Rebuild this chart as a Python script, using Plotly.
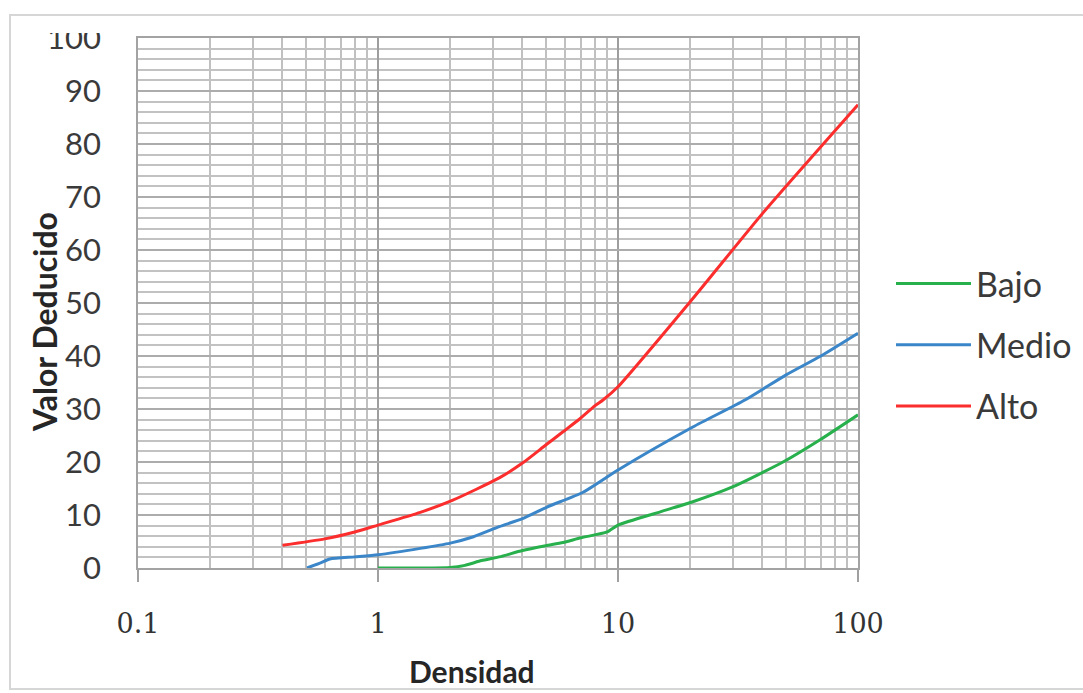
import plotly.graph_objects as go

# ---- data ----
bajo_x = [1, 1.5, 2, 2.3, 2.7, 3.2, 4, 5, 5.9, 7, 9, 10, 15, 20.5, 30, 48.7, 69.5, 100]
bajo_y = [0, 0, 0.1, 0.5, 1.4, 2.1, 3.3, 4.2, 4.8, 5.7, 6.8, 8.1, 10.6, 12.5, 15.3, 20, 24.2, 28.9]

medio_x = [0.506, 0.58, 0.63, 0.8, 1, 1.5, 2, 2.5, 3.2, 4, 5.06, 7.15, 10, 20.5, 33.8, 50, 70, 100]
medio_y = [0, 1.0, 1.7, 2.1, 2.5, 3.7, 4.7, 5.9, 7.8, 9.3, 11.5, 14.3, 18.5, 26.6, 31.7, 36.4, 40, 44.3]

alto_x = [0.4, 0.6, 0.8, 1, 1.5, 2.05, 3.2, 4, 5, 5.9, 7, 8, 8.66, 10, 20.3, 40.2, 100]
alto_y = [4.3, 5.5, 6.8, 8.1, 10.5, 12.8, 17.0, 19.8, 23.2, 25.7, 28.3, 30.6, 31.7, 34.2, 50.6, 67, 87.4]

x_ticks = [0.1, 1, 10, 100]
x_ticktext = ["0.1", "1", "10", "100"]
x_minor = [m * d for d in (0.1, 1, 10) for m in range(2, 10)]
y_ticks = list(range(0, 101, 10))

series = [
    ("Bajo", bajo_x, bajo_y, "#27b04c"),
    ("Medio", medio_x, medio_y, "#3a86c8"),
    ("Alto", alto_x, alto_y, "#fb2d2d"),
]

W, H = 1083, 693
L, R, T, B = 138, 858, 38, 568  # plot area in px


def px_x(p):
    return (p - L) / (R - L)


def px_y(p):
    return (B - p) / (B - T)


fig = go.Figure()
for i, (name, xs, ys, col) in enumerate(series):
    fig.add_trace(go.Scatter(
        x=xs, y=ys, name=name, mode="lines",
        line=dict(color=col, width=3, shape="spline", smoothing=0.6),
        legendgroup=f"g{i}",
    ))

tick_font_sans = dict(family="Lato, 'Open Sans', sans-serif", size=31, color="#3a3a3a")
tick_font_serif = dict(family="'DejaVu Serif', serif", size=27, color="#333333")

fig.update_layout(
    width=W, height=H,
    margin=dict(l=L, r=W - R, t=T, b=H - B, autoexpand=False),
    paper_bgcolor="white", plot_bgcolor="white",
    showlegend=True,
    legend=dict(
        x=px_x(891), xanchor="left", y=px_y(255), yanchor="top",
        font=dict(family="Lato, sans-serif", size=34, color="#3a3a3a"),
        itemwidth=75, tracegroupgap=14, bgcolor="rgba(0,0,0,0)",
    ),
    xaxis=dict(
        type="log", range=[-1, 2],
        tickvals=x_ticks, ticktext=x_ticktext,
        tickfont=tick_font_serif,
        ticks="outside", ticklen=12, tickwidth=1.5, tickcolor="#a0a0a0",
        ticklabelstandoff=19,
        showgrid=True, gridcolor="#9e9e9e", gridwidth=1.5,
        minor=dict(tickvals=x_minor, showgrid=True, gridcolor="#c0c0c0", gridwidth=1.5, ticks=""),
        showline=True, linecolor="#a3a3a3", linewidth=1.5, mirror=True,
        zeroline=False,
    ),
    yaxis=dict(
        range=[0, 100], tickvals=y_ticks,
        tickfont=tick_font_sans,
        ticks="", ticklabelstandoff=29,
        showgrid=True, gridcolor="#acacac", gridwidth=1.5,
        minor=dict(dtick=2, showgrid=True, gridcolor="#c2c2c2", gridwidth=1.5, ticks=""),
        showline=True, linecolor="#a3a3a3", linewidth=1.5, mirror=True,
        zeroline=False,
    ),
    annotations=[
        dict(text="<b>Valor Deducido</b>", textangle=-90,
             x=px_x(44), y=px_y(322), xref="paper", yref="paper",
             xanchor="center", yanchor="middle", showarrow=False,
             font=dict(family="Lato, sans-serif", size=32, color="#262626")),
        dict(text="<b>Densidad</b>",
             x=px_x(472), y=px_y(671), xref="paper", yref="paper",
             xanchor="center", yanchor="middle", showarrow=False,
             font=dict(family="Lato, sans-serif", size=30, color="#262626")),
    ],
    shapes=[
        # white cover emulating the cropped top edge of the original picture
        dict(type="rect", xref="paper", yref="paper", layer="above",
             x0=px_x(20), x1=px_x(132), y0=px_y(33), y1=px_y(16),
             fillcolor="white", line=dict(width=0)),
        # outer frame
        dict(type="rect", xref="paper", yref="paper", layer="above",
             x0=px_x(10), x1=px_x(1095), y0=px_y(689), y1=px_y(15),
             fillcolor="rgba(0,0,0,0)", line=dict(color="#d6d6d6", width=2)),
    ],
)

fig.write_html("out.html", config={"displayModeBar": False},
               post_script="document.body.style.margin='0';")
